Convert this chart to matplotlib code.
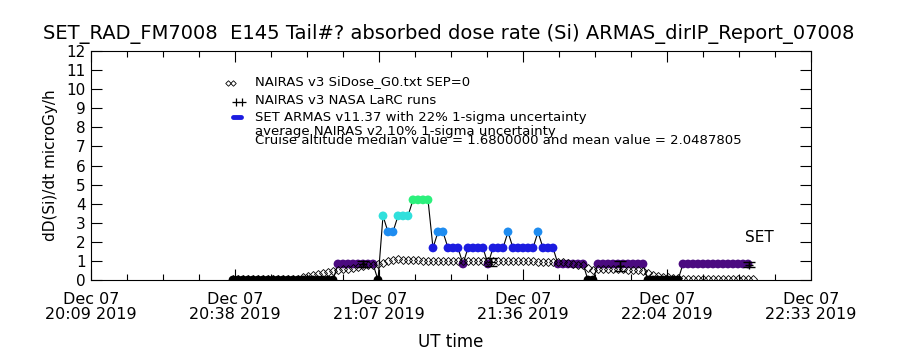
import numpy as np
import matplotlib
matplotlib.use("Agg")
import matplotlib.pyplot as plt
from matplotlib.lines import Line2D

# time axis in minutes after 20:00 UT
tick_min = [9.6, 38.4, 67.2, 96.0, 124.8, 153.6]
tick_labels = ["Dec 07\n20:09 2019", "Dec 07\n20:38 2019", "Dec 07\n21:07 2019",
               "Dec 07\n21:36 2019", "Dec 07\n22:04 2019", "Dec 07\n22:33 2019"]

# both 1-minute series start at 20:38 UT
sample_start = 38.0
sample_step = 1.0

# NAIRAS v3 SiDose_G0 (diamonds)
nairas_dose = [0.03, 0.03, 0.03, 0.03, 0.03, 0.03, 0.03, 0.03, 0.03, 0.03, 0.03, 0.03, 0.03, 0.03,
               0.16, 0.22, 0.28, 0.33, 0.37, 0.43, 0.48, 0.52, 0.56, 0.60, 0.65, 0.69, 0.73, 0.77,
               0.80, 0.84, 0.90, 0.97, 1.05, 1.08, 1.05, 1.04,
               1.03, 1.03, 1.02, 1.02, 1.02, 1.01, 1.01, 1.01, 1.00, 1.00, 1.00, 1.00, 1.00, 0.99, 0.99,
               0.99, 0.99, 0.98, 0.98, 0.98, 0.98, 0.97, 0.97, 0.97, 0.97, 0.96, 0.96, 0.96, 0.95, 0.95,
               0.93, 0.88, 0.83, 0.80, 0.76, 0.65, 0.52, 0.58, 0.60, 0.59, 0.58, 0.57, 0.56, 0.55,
               0.53, 0.50, 0.46, 0.35, 0.25, 0.20, 0.18, 0.15, 0.12, 0.10,
               0.05, 0.05, 0.05, 0.05, 0.05, 0.05, 0.05, 0.05, 0.05, 0.05, 0.05, 0.05, 0.05, 0.05, 0.05]

# SET ARMAS v11.37 dose rate
armas_dose = [0, 0, 0, 0, 0, 0, 0, 0, 0, 0, 0, 0, 0, 0, 0, 0, 0, 0, 0, 0, 0,
              0.84, 0.84, 0.84, 0.84, 0.84, 0.84, 0.84, 0.84, 0,
              3.36, 2.52, 2.52, 3.36, 3.36, 3.36, 4.2, 4.2, 4.2, 4.2,
              1.68, 2.52, 2.52, 1.68, 1.68, 1.68, 0.84, 1.68, 1.68, 1.68, 1.68,
              0.84, 1.68, 1.68, 1.68, 2.52, 1.68, 1.68, 1.68, 1.68, 1.68, 2.52,
              1.68, 1.68, 1.68, 0.84, 0.84, 0.84, 0.84, 0.84, 0.84, 0, 0,
              0.84, 0.84, 0.84, 0.84, 0.84, 0.84, 0.84, 0.84, 0.84, 0.84,
              0, 0, 0, 0, 0, 0, 0,
              0.84, 0.84, 0.84, 0.84, 0.84, 0.84, 0.84, 0.84, 0.84, 0.84, 0.84, 0.84, 0.84, 0.84]

# NAIRAS v3 NASA LaRC runs with error bars
larc_min = [64.0, 89.6, 115.4, 141.2]
larc_dose = [0.84, 0.94, 0.73, 0.81]
larc_err = [0.16, 0.20, 0.28, 0.13]

# colour per ARMAS level (0, 0.84, 1.68, 2.52, 3.36, 4.2)
level_step = 0.84
level_colors = ["#000000", "#4b0a80", "#1c1ce0", "#1e8cf0", "#30e0dc", "#2cf07c"]

nairas_min = sample_start + sample_step * np.arange(len(nairas_dose))
armas_min = sample_start + sample_step * np.arange(len(armas_dose))
armas_col = [level_colors[int(round(v / level_step))] for v in armas_dose]

fig = plt.figure(figsize=(9, 3.5), dpi=100)
ax = fig.add_axes([91 / 900, 70 / 350, 720 / 900, 229 / 350])

ax.plot(armas_min, armas_dose, color="k", lw=0.8, zorder=2)
ax.scatter(armas_min, armas_dose, s=40, c=armas_col, edgecolors="none", zorder=3)
ax.plot(nairas_min, nairas_dose, ls="none", marker="D", ms=3.6, mfc="none",
        mec="k", mew=0.6, zorder=4)
ax.errorbar(larc_min, larc_dose, yerr=larc_err, fmt="+", color="k", ms=6,
            lw=1, capsize=4, capthick=1, zorder=5)
ax.text(140.4, 2.25, "SET", fontsize=11, ha="left", va="center")

ax.set_xlim(tick_min[0], tick_min[-1])
ax.set_ylim(0, 12)
ax.set_xticks(tick_min)
ax.set_xticklabels(tick_labels, fontsize=11.5)
ax.set_xticks(np.arange(tick_min[0], tick_min[-1] + 0.1, 7.2), minor=True)
ax.set_yticks(range(13))
ax.set_yticklabels([str(i) for i in range(13)], fontsize=11)
for lab in ax.get_xticklabels():
    lab.set_linespacing(0.95)
ax.tick_params(axis="both", which="both", direction="in", top=True, right=True,
               width=0.8)
ax.tick_params(axis="x", which="major", length=8, pad=9)
ax.tick_params(axis="x", which="minor", length=4)
ax.tick_params(axis="y", which="major", length=8, pad=4)
for sp in ax.spines.values():
    sp.set_linewidth(0.8)

ax.set_ylabel("dD(Si)/dt microGy/h", fontsize=11, labelpad=6)
fig.text(451 / 900, 1 - 342 / 350, "UT time", fontsize=12, ha="center", va="center")
fig.text(449 / 900, 1 - 34 / 350,
         "SET_RAD_FM7008  E145 Tail#? absorbed dose rate (Si) ARMAS_dirIP_Report_07008",
         fontsize=14, ha="center", va="center")


# legend block, placed in figure pixels
def px(x, y):
    return x / 900, 1 - y / 350


legend_rows = [
    (82, "NAIRAS v3 SiDose_G0.txt SEP=0"),
    (100, "NAIRAS v3 NASA LaRC runs"),
    (117.5, "SET ARMAS v11.37 with 22% 1-sigma uncertainty"),
    (131, "average NAIRAS v2 10% 1-sigma uncertainty"),
    (140, "Cruise altitude median value = 1.6800000 and mean value = 2.0487805"),
]
for yy, txt in legend_rows:
    fx, fy = px(255, yy)
    fig.text(fx, fy, txt, fontsize=9.5, ha="left", va="center")

for xx in (228, 233):
    fx, fy = px(xx, 83)
    fig.add_artist(Line2D([fx], [fy], marker="D", ms=2.8, mfc="none", mec="k", mew=0.6))
for xx in (236, 242):
    fx, fy = px(xx, 102)
    fig.add_artist(Line2D([fx], [fy], marker="+", ms=6, color="k", mew=0.9))
x0, y0 = px(233, 117)
x1, _ = px(241, 117)
fig.add_artist(Line2D([x0, x1], [y0, y0], color=level_colors[2], lw=3.5,
                      solid_capstyle="round"))

fig.savefig("out.png", dpi=100)
